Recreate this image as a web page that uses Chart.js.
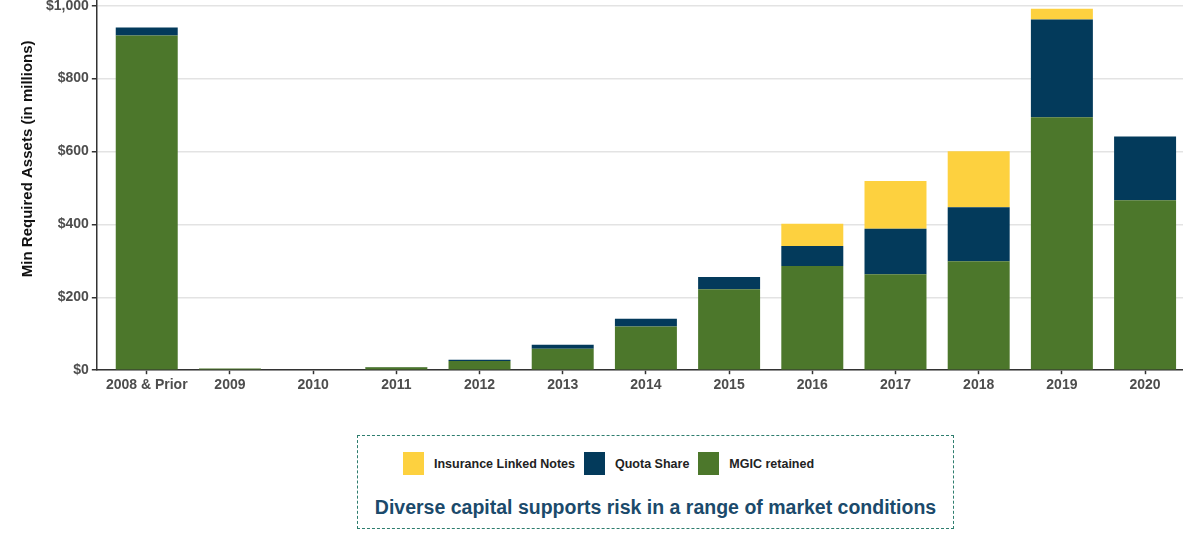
<!DOCTYPE html>
<html>
<head>
<meta charset="utf-8">
<script src="https://cdn.jsdelivr.net/npm/chart.js@4"></script>
<style>
  html, body { margin: 0; padding: 0; background: #fff; overflow: hidden; }
  body { width: 1183px; height: 534px; position: relative; }
  #wrap { position: absolute; left: 0; top: -64px; width: 1200px; height: 461px; }
  #legendBox {
    position: absolute; left: 357px; top: 435px; width: 597px; height: 94px;
    border: 1.5px dashed #2e7d6e; box-sizing: border-box;
    font-family: "Liberation Sans", Arial, sans-serif;
  }
  #legendItems { position: absolute; top: 16px; left: 45px; display: flex; }
  .item { display: flex; align-items: center; margin-right: 9px; font-size: 12.5px; font-weight: bold; color: #222; }
  .swatch { width: 21px; height: 23px; margin-right: 10px; }
  #caption {
    position: absolute; top: 60px; left: 0; right: 0; text-align: center;
    font-size: 19.5px; font-weight: bold; color: #1b4a6b;
  }
</style>
</head>
<body>
<div id="wrap"><canvas id="chartAssets"></canvas></div>
<div id="legendBox">
  <div id="legendItems"></div>
  <div id="caption">Diverse capital supports risk in a range of market conditions</div>
</div>
<script>
/* =========================
   DATOS
========================= */

const categorias = ["2008 & Prior", "2009", "2010", "2011", "2012", "2013", "2014",
  "2015", "2016", "2017", "2018", "2019", "2020"];

const insuranceLinked = [0, 0, 0, 0, 0, 0, 0, 0, 61, 131, 154, 30, 0];
const quotaShare = [22, 0, 0, 1, 4, 11, 21, 34, 55, 125, 148, 268, 175];
const mgicRetained = [918, 5, 2, 8, 25, 59, 120, 222, 286, 263, 299, 694, 466];

const yTicks = [0, 200, 400, 600, 800, 1000];

const series = [
  { label: "Insurance Linked Notes", values: insuranceLinked, color: "#fdd13f" },
  { label: "Quota Share", values: quotaShare, color: "#033a5b" },
  { label: "MGIC retained", values: mgicRetained, color: "#4c772b" }
];

/* =========================
   CHART
========================= */

const fontFam = "'Liberation Sans', Arial, sans-serif";

// verde abajo: se invierte el orden del apilado
const datasets = series.slice().reverse().map(s => ({
  label: s.label,
  data: s.values.map((v, i) => ({ x: i, y: v })),
  backgroundColor: s.color,
  borderWidth: 0,
  barPercentage: 0.745,
  categoryPercentage: 1
}));

new Chart(document.getElementById("chartAssets"), {
  type: "bar",
  data: { datasets },
  options: {
    responsive: true,
    maintainAspectRatio: false,
    animation: false,
    layout: { padding: { top: 0, right: 5, bottom: 0, left: 19 } },
    plugins: {
      legend: { display: false },
      tooltip: { enabled: false }
    },
    scales: {
      x: {
        type: "linear",
        stacked: true,
        offset: false,
        min: -0.6,
        max: 12.6,
        afterBuildTicks: scale => {
          scale.ticks = categorias.map((c, i) => ({ value: i }));
        },
        ticks: {
          stepSize: 1,
          autoSkip: false,
          maxRotation: 0,
          padding: 3,
          color: "#4d4d4d",
          font: { family: fontFam, size: 14, weight: "bold" },
          callback: v => categorias[v] ?? ""
        },
        grid: {
          offset: false,
          drawOnChartArea: false,
          drawTicks: true,
          tickLength: 4,
          tickColor: "#333",
          tickWidth: 1.5
        },
        border: { display: true, color: "#333", width: 1.5 }
      },
      y: {
        stacked: true,
        min: 0,
        max: 1160,
        afterBuildTicks: scale => {
          scale.ticks = yTicks.map(v => ({ value: v }));
        },
        ticks: {
          stepSize: 200,
          padding: 3,
          color: "#4d4d4d",
          font: { family: fontFam, size: 14, weight: "bold" },
          callback: v => "$" + v.toLocaleString("en-US")
        },
        grid: {
          color: "#e3e3e3",
          lineWidth: 1.5,
          tickLength: 5,
          tickColor: "#333",
          tickWidth: 1.5
        },
        border: { display: true, color: "#333", width: 1.5 },
        title: {
          display: true,
          text: "Min Required Assets (in millions)",
          color: "#111",
          padding: { top: 0, bottom: 6 },
          font: { family: fontFam, size: 15, weight: "bold" }
        }
      }
    }
  }
});

/* =========================
   LEYENDA
========================= */

const legendItems = document.getElementById("legendItems");
series.forEach(s => {
  const item = document.createElement("div");
  item.className = "item";
  item.innerHTML = `<span class="swatch" style="background:${s.color}"></span>${s.label}`;
  legendItems.appendChild(item);
});
</script>
</body>
</html>
